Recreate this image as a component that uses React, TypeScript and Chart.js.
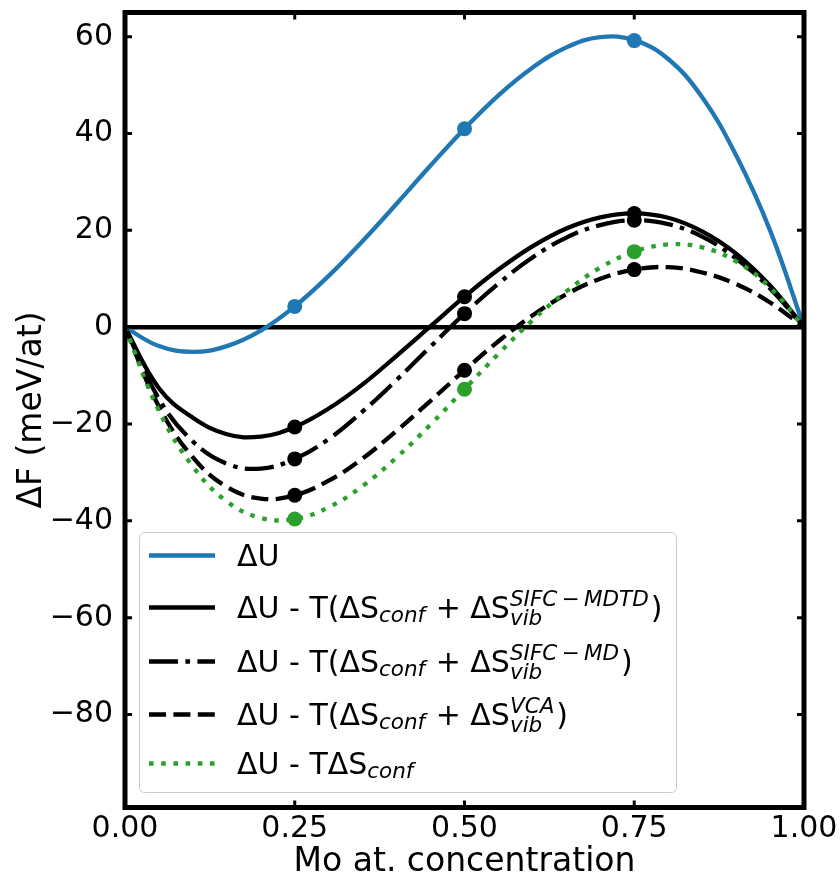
import React, { useEffect, useRef } from 'react';
import { Chart, registerables } from 'chart.js';

Chart.register(...registerables);

// ---- data ----
const X_CURVE = [0, 0.05, 0.1, 0.15, 0.2, 0.25, 0.3, 0.35, 0.4, 0.45, 0.5, 0.55, 0.6, 0.65, 0.7, 0.75, 0.8, 0.85, 0.9, 0.95, 1];
const DU_CURVE = [0, -3.9, -5.1, -3.9, -0.7, 4.3, 10.6, 17.8, 25.5, 33.4, 41.0, 47.9, 53.6, 57.8, 59.9, 59.3, 55.4, 47.5, 35.5, 20.0, 0];
const MDTD_CURVE = [0, -12.6, -18.7, -22.1, -22.6, -20.6, -16.8, -11.8, -5.9, 0.2, 6.3, 11.9, 16.7, 20.4, 22.7, 23.5, 22.6, 19.8, 15.2, 8.6, 0];
const MD_CURVE = [0, -14.8, -23.6, -28.2, -29.2, -27.2, -23.1, -17.4, -10.9, -4.0, 2.8, 9.0, 14.4, 18.5, 21.1, 22.1, 21.3, 18.7, 14.2, 8.0, 0];
const VCA_CURVE = [0, -16.4, -26.9, -33.0, -35.4, -34.7, -31.7, -27.1, -21.4, -15.2, -8.9, -2.9, 2.4, 6.8, 10.0, 11.9, 12.4, 11.3, 8.9, 5.1, 0];
const CONF_CURVE = [0, -17.3, -28.8, -36.0, -39.4, -39.6, -37.2, -32.8, -26.9, -20.1, -12.8, -5.5, 1.4, 7.4, 12.3, 15.6, 17.1, 16.5, 13.6, 8.2, 0];

const X_POINTS = [0.25, 0.5, 0.75];
const DU_POINTS = [4.3, 41.0, 59.2];
const MDTD_POINTS = [-20.6, 6.3, 23.5];
const MD_POINTS = [-27.2, 2.8, 22.1];
const VCA_POINTS = [-34.7, -8.9, 11.9];
const CONF_POINTS = [-39.6, -12.8, 15.6];

const X_TICKS = [0, 0.25, 0.5, 0.75, 1];
const Y_TICKS = [-80, -60, -40, -20, 0, 20, 40, 60];
const X_RANGE = [0, 1];
const Y_RANGE = [-99.2, 65.0];

const X_LABEL = 'Mo at. concentration';
const Y_LABEL = 'ΔF (meV/at)';

type Seg = { t: string; k: 'm' | 's' } | { sub: string; sup: string };
const LEGEND_ROWS: Seg[][] = [
  [{ t: 'ΔU', k: 'm' }],
  [{ t: 'ΔU - T(ΔS', k: 'm' }, { t: 'conf', k: 's' }, { t: ' + ΔS', k: 'm' }, { sub: 'vib', sup: 'SIFC\u2009\u2212\u2009MDTD' }, { t: ')', k: 'm' }],
  [{ t: 'ΔU - T(ΔS', k: 'm' }, { t: 'conf', k: 's' }, { t: ' + ΔS', k: 'm' }, { sub: 'vib', sup: 'SIFC\u2009\u2212\u2009MD' }, { t: ')', k: 'm' }],
  [{ t: 'ΔU - T(ΔS', k: 'm' }, { t: 'conf', k: 's' }, { t: ' + ΔS', k: 'm' }, { sub: 'vib', sup: 'VCA' }, { t: ')', k: 'm' }],
  [{ t: 'ΔU - TΔS', k: 'm' }, { t: 'conf', k: 's' }],
];

const BLUE = '#1f77b4';
const GREEN = '#2ca02c';
const BLACK = '#000000';
const LW = 4.3;
const DASHED = [17, 7.4];
const DASHDOT = [29, 7.4, 4.6, 7.4];
const DOTTED = [4.6, 7.6];

const SERIES_STYLE = [
  { color: BLUE, dash: [] as number[] },
  { color: BLACK, dash: [] as number[] },
  { color: BLACK, dash: DASHDOT },
  { color: BLACK, dash: DASHED },
  { color: GREEN, dash: DOTTED },
];

const FONT = 'DejaVu Sans';

const toXY = (xs: number[], ys: number[]) => xs.map((x, i) => ({ x, y: ys[i] }));

const framePlugin = {
  id: 'frameTicks',
  afterDatasetsDraw(chart: any) {
    const { ctx, chartArea: a, scales } = chart;
    const xs = scales.x;
    const ys = scales.y;
    ctx.save();
    ctx.strokeStyle = '#000';
    ctx.lineCap = 'butt';
    ctx.lineWidth = 3;
    ctx.beginPath();
    const L = 7;
    for (const v of Y_TICKS) {
      const py = ys.getPixelForValue(v);
      ctx.moveTo(a.left, py);
      ctx.lineTo(a.left + L, py);
      ctx.moveTo(a.right, py);
      ctx.lineTo(a.right - L, py);
    }
    for (const v of X_TICKS) {
      const px = xs.getPixelForValue(v);
      ctx.moveTo(px, a.top);
      ctx.lineTo(px, a.top + L);
      ctx.moveTo(px, a.bottom);
      ctx.lineTo(px, a.bottom - L);
    }
    ctx.stroke();
    ctx.lineWidth = 5;
    ctx.strokeRect(a.left, a.top, a.right - a.left, a.bottom - a.top);
    ctx.restore();
  },
};

const legendPlugin = {
  id: 'mathLegend',
  afterDraw(chart: any) {
    const { ctx } = chart;
    ctx.save();
    const bx = 139.5, by = 532.5, bw = 537, bh = 260, r = 5;
    ctx.beginPath();
    ctx.moveTo(bx + r, by);
    ctx.lineTo(bx + bw - r, by);
    ctx.arcTo(bx + bw, by, bx + bw, by + r, r);
    ctx.lineTo(bx + bw, by + bh - r);
    ctx.arcTo(bx + bw, by + bh, bx + bw - r, by + bh, r);
    ctx.lineTo(bx + r, by + bh);
    ctx.arcTo(bx, by + bh, bx, by + bh - r, r);
    ctx.lineTo(bx, by + r);
    ctx.arcTo(bx, by, bx + r, by, r);
    ctx.closePath();
    ctx.fillStyle = 'rgba(255,255,255,0.8)';
    ctx.fill();
    ctx.strokeStyle = '#cccccc';
    ctx.lineWidth = 1;
    ctx.stroke();

    const baselines = [566, 618, 672, 725, 774];
    const mainFont = `30px "${FONT}"`;
    const smallFont = `italic 21.5px "${FONT}"`;
    LEGEND_ROWS.forEach((row, i) => {
      const base = baselines[i];
      const st = SERIES_STYLE[i];
      ctx.beginPath();
      ctx.setLineDash(st.dash);
      ctx.lineDashOffset = 0;
      ctx.strokeStyle = st.color;
      ctx.lineWidth = LW;
      ctx.lineCap = 'butt';
      ctx.moveTo(149, base - 10.5);
      ctx.lineTo(215, base - 10.5);
      ctx.stroke();
      ctx.setLineDash([]);
      ctx.fillStyle = '#000';
      ctx.textBaseline = 'alphabetic';
      ctx.textAlign = 'left';
      let x = 237;
      for (const seg of row) {
        if ('t' in seg) {
          if (seg.k === 'm') {
            ctx.font = mainFont;
            ctx.fillText(seg.t, x, base);
            x += ctx.measureText(seg.t).width;
          } else {
            ctx.font = smallFont;
            ctx.fillText(seg.t, x, base + 4);
            x += ctx.measureText(seg.t).width + 1;
          }
        } else {
          ctx.font = smallFont;
          ctx.fillText(seg.sub, x, base + 7);
          ctx.fillText(seg.sup, x, base - 12);
          x += Math.max(ctx.measureText(seg.sub).width, ctx.measureText(seg.sup).width) + 2;
        }
      }
    });
    ctx.restore();
  },
};

export default function App() {
  const ref = useRef<HTMLCanvasElement | null>(null);
  useEffect(() => {
    document.body.style.margin = '0';
    const canvas = ref.current;
    if (!canvas) return;

    const lineDs = (data: number[], i: number, order: number) => ({
      data: toXY(X_CURVE, data),
      showLine: true,
      borderColor: SERIES_STYLE[i].color,
      borderWidth: LW,
      borderDash: SERIES_STYLE[i].dash,
      borderCapStyle: 'butt',
      pointRadius: 0,
      tension: 0.4,
      fill: false,
      order,
    });
    const ptDs = (data: number[], i: number, order: number) => ({
      data: toXY(X_POINTS, data),
      showLine: false,
      pointRadius: 7.5,
      pointBackgroundColor: SERIES_STYLE[i].color,
      pointBorderColor: SERIES_STYLE[i].color,
      pointBorderWidth: 0,
      order,
    });

    const chart = new Chart(canvas, {
      type: 'scatter',
      data: {
        datasets: [
          { data: [{ x: 0, y: 0 }, { x: 1, y: 0 }], showLine: true, borderColor: '#000', borderWidth: 4.5, pointRadius: 0, order: 100 } as any,
          lineDs(DU_CURVE, 0, 90),
          ptDs(DU_POINTS, 0, 89),
          lineDs(MDTD_CURVE, 1, 80),
          ptDs(MDTD_POINTS, 1, 79),
          lineDs(MD_CURVE, 2, 70),
          ptDs(MD_POINTS, 2, 69),
          lineDs(VCA_CURVE, 3, 60),
          ptDs(VCA_POINTS, 3, 59),
          lineDs(CONF_CURVE, 4, 50),
          ptDs(CONF_POINTS, 4, 49),
        ] as any,
      },
      options: {
        animation: false,
        responsive: false,
        devicePixelRatio: 1,
        events: [],
        layout: { padding: { left: 0, top: 12.5, right: 36, bottom: 0 } },
        plugins: { legend: { display: false }, tooltip: { enabled: false } },
        scales: {
          x: {
            type: 'linear',
            min: X_RANGE[0],
            max: X_RANGE[1],
            grid: { display: false, drawTicks: false },
            border: { display: false },
            afterBuildTicks: (s: any) => { s.ticks = X_TICKS.map((v) => ({ value: v })); },
            afterFit: (s: any) => { s.height = 71.5; s.paddingLeft = 0; s.paddingRight = 0; },
            ticks: {
              color: '#000',
              padding: 6.5,
              maxRotation: 0,
              autoSkip: false,
              font: { family: FONT, size: 30, lineHeight: 1 },
              callback: (v: any) => Number(v).toFixed(2),
            },
            title: {
              display: true,
              text: X_LABEL,
              color: '#000',
              font: { family: FONT, size: 33, lineHeight: 1 },
              padding: { top: 0, bottom: 0 },
            },
          },
          y: {
            type: 'linear',
            min: Y_RANGE[0],
            max: Y_RANGE[1],
            grid: { display: false, drawTicks: false },
            border: { display: false },
            afterBuildTicks: (s: any) => { s.ticks = Y_TICKS.map((v) => ({ value: v })); },
            afterFit: (s: any) => { s.width = 125; s.paddingTop = 0; s.paddingBottom = 0; },
            ticks: {
              color: '#000',
              padding: 12,
              autoSkip: false,
              font: { family: FONT, size: 30, lineHeight: 1 },
              callback: (v: any) => (Number(v) < 0 ? '\u2212' + Math.abs(Number(v)) : String(v)),
            },
            title: {
              display: true,
              text: Y_LABEL,
              color: '#000',
              font: { family: FONT, size: 33, lineHeight: 1 },
              padding: { top: 16, bottom: 0 },
            },
          },
        },
      },
      plugins: [framePlugin, legendPlugin],
    } as any);
    return () => chart.destroy();
  }, []);

  return (
    <div style={{ width: 840, height: 879, position: 'relative' }}>
      <canvas ref={ref} width={840} height={879} style={{ display: 'block' }} />
    </div>
  );
}
